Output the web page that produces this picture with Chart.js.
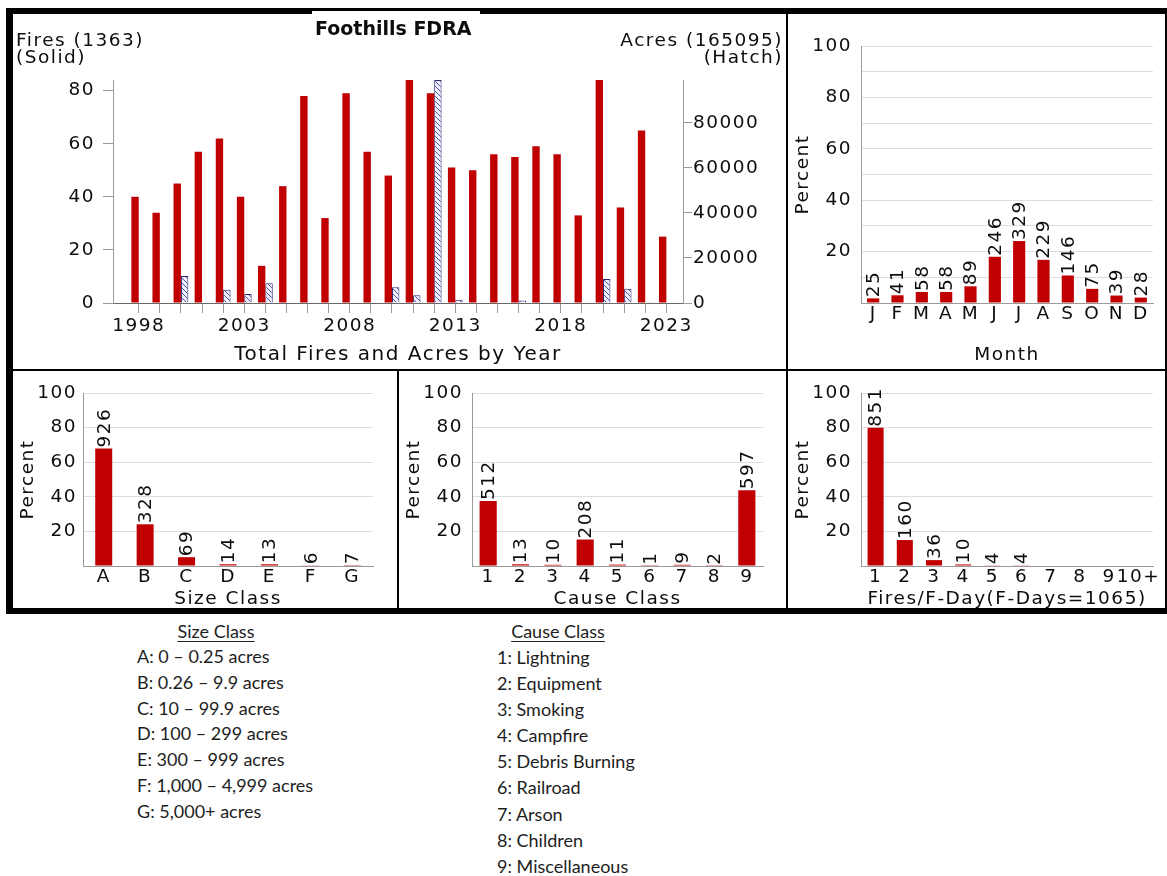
<!DOCTYPE html>
<html>
<head>
<meta charset="utf-8">
<title>Foothills FDRA</title>
<script src="https://cdn.jsdelivr.net/npm/chart.js@4.4.1/dist/chart.umd.min.js"></script>
<style>
  body { margin: 0; background: #fff; width: 1167px; height: 876px; position: relative; overflow: hidden;
         font-family: "DejaVu Sans", sans-serif; color: #0d0d0d; }
  canvas { position: absolute; }
  .bar { position: absolute; background: #000; }
  .lbl { position: absolute; font-size: 18.5px; letter-spacing: 1.5px; line-height: 17px; white-space: pre; }
  .key { position: absolute; font-family: Lato, sans-serif; font-size: 18px; color: #1e1e1e; white-space: pre; }
  .key.title { text-decoration: underline; text-underline-offset: 3px; transform: translateX(-50%); line-height: 26px; }
</style>
</head>
<body>
<canvas id="years" width="773" height="355" style="left:13px;top:14px;width:773px;height:355px"></canvas>
<canvas id="months" width="375" height="355" style="left:788px;top:14px;width:375px;height:355px"></canvas>
<canvas id="sizes" width="384" height="237" style="left:13px;top:371px;width:384px;height:237px"></canvas>
<canvas id="causes" width="387" height="237" style="left:399px;top:371px;width:387px;height:237px"></canvas>
<canvas id="fdays" width="375" height="237" style="left:788px;top:371px;width:375px;height:237px"></canvas>

<!-- frame -->
<div class="bar" style="left:6px;top:8px;width:1161px;height:6px"></div>
<div class="bar" style="left:6px;top:8px;width:7px;height:606px"></div>
<div class="bar" style="left:6px;top:608px;width:1161px;height:6px"></div>
<div class="bar" style="left:1165px;top:8px;width:2px;height:606px"></div>
<div class="bar" style="left:13px;top:369px;width:1152px;height:2px"></div>
<div class="bar" style="left:786px;top:14px;width:2px;height:594px"></div>
<div class="bar" style="left:397px;top:371px;width:2px;height:237px"></div>
<div style="position:absolute;left:312px;top:11px;width:168px;height:3px;background:#fff"></div>

<div style="position:absolute;left:315px;top:18px;font-size:19px;font-weight:bold;line-height:20px;white-space:pre">Foothills FDRA</div>
<div class="lbl" style="left:16px;top:31px">Fires (1363)
(Solid)</div>
<div class="lbl" style="right:384px;top:31px;text-align:right">Acres (165095)
(Hatch)</div>

<div class="key title" style="left:216px;top:618px">Size Class</div>
<div class="key" style="left:137px;top:644px;line-height:25.8px">A: 0 – 0.25 acres
B: 0.26 – 9.9 acres
C: 10 – 99.9 acres
D: 100 – 299 acres
E: 300 – 999 acres
F: 1,000 – 4,999 acres
G: 5,000+ acres</div>
<div class="key title" style="left:558px;top:618px">Cause Class</div>
<div class="key" style="left:497px;top:644px;line-height:26.1px">1: Lightning
2: Equipment
3: Smoking
4: Campfire
5: Debris Burning
6: Railroad
7: Arson
8: Children
9: Miscellaneous</div>

<script>
// yearly totals
const years = [1998, 1999, 2000, 2001, 2002, 2003, 2004, 2005, 2006, 2007, 2008, 2009, 2010,
               2011, 2012, 2013, 2014, 2015, 2016, 2017, 2018, 2019, 2020, 2021, 2022, 2023];
const fires = [40, 34, 45, 57, 62, 40, 14, 44, 78, 32, 79, 57, 48,
               84, 79, 51, 50, 56, 55, 59, 56, 33, 84, 36, 65, 25];
const acres = [0, 0, 12000, 0, 5900, 4000, 8800, 0, 300, 0, 0, 300, 7000,
               3400, 99000, 1400, 0, 0, 1100, 300, 0, 200, 10700, 6300, 300, 0];
const fireTicks = [0, 20, 40, 60, 80];
const acreTicks = [0, 20000, 40000, 60000, 80000];
const pctTicks = [0, 10, 20, 30, 40, 50, 60, 70, 80, 90, 100];

// month of occurrence
const months = ['J', 'F', 'M', 'A', 'M', 'J', 'J', 'A', 'S', 'O', 'N', 'D'];
const monthCounts = [25, 41, 58, 58, 89, 246, 329, 229, 146, 75, 39, 28];
const monthPct = [1.8, 3.0, 4.3, 4.3, 6.5, 18.0, 24.1, 16.8, 10.7, 5.5, 2.9, 2.1];

// size class
const sizeClasses = ['A', 'B', 'C', 'D', 'E', 'F', 'G'];
const sizeCounts = [926, 328, 69, 14, 13, 6, 7];
const sizePct = [67.9, 24.1, 5.1, 1.0, 1.0, 0.4, 0.5];

// cause class
const causeClasses = ['1', '2', '3', '4', '5', '6', '7', '8', '9'];
const causeCounts = [512, 13, 10, 208, 11, 1, 9, 2, 597];
const causePct = [37.6, 1.0, 0.7, 15.3, 0.8, 0.1, 0.7, 0.1, 43.8];

// fires per fire-day
const fdayClasses = ['1', '2', '3', '4', '5', '6', '7', '8', '9', '10+'];
const fdayCounts = [851, 160, 36, 10, 4, 4, 0, 0, 0, 0];
const fdayPct = [79.9, 15.0, 3.4, 0.9, 0.4, 0.4, 0, 0, 0, 0];

const RED = '#c00000';
const AXIS = '#9a9a9a';
const GRID = '#dedede';

Chart.defaults.font.family = '"DejaVu Sans", sans-serif';
Chart.defaults.font.size = 18.5;
Chart.defaults.color = '#0d0d0d';

// the original text is drawn rather wide
Chart.register({
    id: 'wideText',
    beforeDraw(chart) { chart.ctx.letterSpacing = '1.5px'; }
});

// count written upward on top of each bar
function countLabels(counts) {
    return {
        id: 'countLabels',
        afterDatasetsDraw(chart) {
            const ctx = chart.ctx;
            const meta = chart.getDatasetMeta(0);
            ctx.save();
            ctx.font = '18.5px "DejaVu Sans"';
            ctx.fillStyle = '#0d0d0d';
            ctx.textAlign = 'left';
            ctx.textBaseline = 'middle';
            meta.data.forEach((bar, i) => {
                if (!counts[i]) return;
                ctx.save();
                ctx.translate(bar.x + 1, bar.y - 1);
                ctx.rotate(-Math.PI / 2);
                ctx.fillText(String(counts[i]), 0, 0);
                ctx.restore();
            });
            ctx.restore();
        }
    };
}

function hatch(ctx) {
    const tile = document.createElement('canvas');
    tile.width = 5;
    tile.height = 5;
    const g = tile.getContext('2d');
    g.fillStyle = '#eef0fb';
    g.fillRect(0, 0, 5, 5);
    g.strokeStyle = '#5050b0';
    g.lineWidth = 1;
    g.beginPath();
    g.moveTo(0, 0); g.lineTo(5, 5);
    g.moveTo(-1, 4); g.lineTo(1, 6);
    g.moveTo(4, -1); g.lineTo(6, 1);
    g.stroke();
    return ctx.createPattern(tile, 'repeat');
}

const yearCtx = document.getElementById('years').getContext('2d');

new Chart(yearCtx, {
    type: 'bar',
    data: {
        datasets: [{
            data: fires.map((v, i) => ({ x: years[i], y: v })),
            backgroundColor: RED,
            yAxisID: 'y',
            categoryPercentage: 0.7,
            barPercentage: 1
        }, {
            data: acres.map((v, i) => ({ x: years[i], y: v })),
            backgroundColor: hatch(yearCtx),
            borderColor: '#2a2a70',
            borderWidth: 1,
            yAxisID: 'y2',
            categoryPercentage: 0.7,
            barPercentage: 1
        }]
    },
    options: {
        responsive: false,
        animation: false,
        events: [],
        layout: { padding: { top: 66, left: 0, right: 0, bottom: 0 } },
        plugins: { legend: { display: false }, tooltip: { enabled: false } },
        scales: {
            x: {
                type: 'linear',
                min: 1997.3,
                max: 2023.27,
                afterBuildTicks: s => { s.ticks = years.map(v => ({ value: v })); },
                afterFit: s => { s.height = 66; },
                ticks: {
                    autoSkip: false, maxRotation: 0, padding: 2,
                    callback: v => (v - 1998) % 5 === 0 ? String(v) : ''
                },
                grid: { drawOnChartArea: false, tickLength: 10, color: AXIS, offset: false },
                border: { color: '#6a6a6a' },
                title: {
                    display: true, text: 'Total Fires and Acres by Year',
                    font: { size: 20, lineHeight: 1 }, padding: { top: 0, bottom: 4 }
                }
            },
            y: {
                position: 'left',
                min: 0,
                max: 84,
                afterBuildTicks: s => { s.ticks = fireTicks.map(v => ({ value: v })); },
                afterFit: s => { s.width = 100; },
                ticks: { padding: 8, callback: v => String(v) },
                grid: { drawOnChartArea: false, tickLength: 10, color: AXIS },
                border: { color: AXIS }
            },
            y2: {
                position: 'right',
                min: 0,
                max: 99000,
                afterBuildTicks: s => { s.ticks = acreTicks.map(v => ({ value: v })); },
                afterFit: s => { s.width = 103; },
                ticks: { padding: 1, callback: v => String(v) },
                grid: { drawOnChartArea: false, tickLength: 9, color: AXIS },
                border: { color: AXIS }
            }
        }
    }
});

function percentChart(id, labels, pct, counts, title, o) {
    return new Chart(document.getElementById(id), {
        type: 'bar',
        data: {
            labels: labels,
            datasets: [{
                data: pct,
                backgroundColor: RED,
                categoryPercentage: 1,
                barPercentage: o.bar
            }]
        },
        options: {
            responsive: false,
            animation: false,
            events: [],
            layout: { padding: { top: o.top, right: o.right, left: 0, bottom: 0 } },
            plugins: { legend: { display: false }, tooltip: { enabled: false } },
            scales: {
                x: {
                    afterFit: s => { s.height = o.xh; },
                    ticks: { autoSkip: false, maxRotation: 0, padding: o.xPad },
                    grid: { display: false, drawTicks: false },
                    border: { color: AXIS },
                    title: {
                        display: true, text: title,
                        font: { lineHeight: 1 }, padding: { top: 0, bottom: o.titlePad }
                    }
                },
                y: {
                    min: 0,
                    max: 100,
                    afterBuildTicks: s => { s.ticks = pctTicks.map(v => ({ value: v })); },
                    afterFit: s => { s.width = o.yw; },
                    ticks: { padding: o.yPad, callback: v => (v > 0 && v % 20 === 0) ? String(v) : '' },
                    grid: { color: GRID, drawTicks: false },
                    border: { color: AXIS },
                    title: {
                        display: true, text: 'Percent',
                        font: { lineHeight: 1 }, padding: { top: 6, bottom: 0 }
                    }
                }
            }
        },
        plugins: [countLabels(counts)]
    });
}

percentChart('months', months, monthPct, monthCounts, 'Month',
    { bar: 0.5, top: 32, right: 10, xh: 66, yw: 73, xPad: 0, yPad: 9, titlePad: 5 });
percentChart('sizes', sizeClasses, sizePct, sizeCounts, 'Size Class',
    { bar: 0.41, top: 22, right: 24, xh: 42, yw: 70, xPad: 0, yPad: 6, titlePad: 0 });
percentChart('causes', causeClasses, causePct, causeCounts, 'Cause Class',
    { bar: 0.53, top: 22, right: 23, xh: 42, yw: 73, xPad: 0, yPad: 9, titlePad: 0 });
percentChart('fdays', fdayClasses, fdayPct, fdayCounts, 'Fires/F-Day(F-Days=1065)',
    { bar: 0.55, top: 22, right: 10, xh: 42, yw: 73, xPad: 0, yPad: 9, titlePad: 0 });
</script>
</body>
</html>
